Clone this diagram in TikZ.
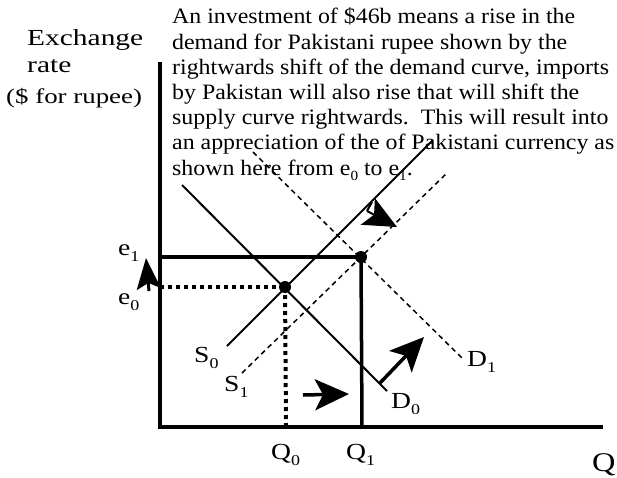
\documentclass[tikz,border=0pt]{standalone}
\usepackage{fontspec}
\setmainfont{Liberation Serif}
\newfontfamily\paraface[FakeStretch=1.085]{Liberation Serif}
\newfontfamily\wideface[FakeStretch=1.28]{Liberation Serif}
\newfontfamily\lblface[FakeStretch=1.2]{Liberation Serif}
\usetikzlibrary{arrows.meta}
\newcommand{\lowidx}[1]{\raisebox{-0.3em}{\fontsize{15}{15}\selectfont #1}}
\newcommand{\smallidx}[1]{\raisebox{-0.25em}{\fontsize{14}{14}\selectfont #1}}
\tikzset{
  axisline/.style={line width=4pt},
  levelline/.style={line width=3.5pt},
  curveline/.style={line width=2pt},
  shiftline/.style={line width=1.5pt, dash pattern=on 5pt off 4pt},
  dotline/.style={line width=4pt, dash pattern=on 4pt off 4pt},
  bigarrow/.style={line width=3.5pt, -{Stealth[length=34pt,width=31pt,inset=8pt]}},
  lbl/.style={anchor=base west, inner sep=0pt, font=\lblface\fontsize{23}{23}\selectfont},
  ylbl/.style={anchor=base west, inner sep=0pt, font=\wideface\fontsize{23}{23}\selectfont},
  eqdot/.style={circle, fill=black, inner sep=0pt, minimum size=12pt}
}
\begin{document}
\begin{tikzpicture}[x=1pt,y=-1pt]
\useasboundingbox (0,0) rectangle (617,477);
% texts
\node[anchor=base west, inner sep=0pt, align=left, font=\paraface\fontsize{22}{25.2}\selectfont] (para) at (172,175)
 {An investment of \$46b means a rise in the\\
  demand for Pakistani rupee shown by the\\
  rightwards shift of the demand curve, imports\\
  by Pakistan will also rise that will shift the\\
  supply curve rightwards.\ \ This will result into\\
  an appreciation of the of Pakistani currency as\\
  shown here from e\smallidx{0} to e\smallidx{1}.};
\node[ylbl] (ylab1) at (27,45) {Exchange};
\node[ylbl] (ylab2) at (27,72) {rate};
\node[ylbl, font=\wideface\fontsize{21}{21}\selectfont] (ylab3) at (6,103) {(\$ for rupee)};
% coordinates
\coordinate (O) at (160,427);
\coordinate (Ytop) at (160,62);
\coordinate (Xend) at (603,427);
\coordinate (E0y) at (160,287);
\coordinate (E1y) at (160,257);
\coordinate (Q0x) at (286,427);
\coordinate (Q1x) at (362,427);
\coordinate (S0a) at (227,346);
\coordinate (S0b) at (433,140);
\coordinate (D0a) at (182,185);
\coordinate (D0b) at (387,391);
\coordinate (S1a) at (242,373);
\coordinate (S1b) at (448,172);
\coordinate (D1a) at (253,152);
\coordinate (D1b) at (462,358);
\node[eqdot] (A) at (285,287) {};
\node[eqdot] (B) at (361,257) {};
% axes
\draw[axisline] (Ytop) -- (O) -- (Xend);
% level lines
\draw[levelline] (E1y) -- (B.center);
\draw[levelline] (B.center) -- (Q1x);
\draw[dotline] (E0y) -- (A.center);
\draw[dotline] (A.center) -- (Q0x);
% curves
\draw[curveline] (S0a) -- (S0b);
\draw[curveline] (D0a) -- (D0b);
\draw[shiftline] (S1a) -- (S1b);
\draw[shiftline] (D1a) -- (D1b);
% labels
\node[lbl] (le1) at (118,255) {e\lowidx{1}};
\node[lbl] (le0) at (118,304) {e\lowidx{0}};
\node[lbl] (lS0) at (194,362) {S\lowidx{0}};
\node[lbl] (lS1) at (224,391) {S\lowidx{1}};
\node[lbl] (lD0) at (391,408) {D\lowidx{0}};
\node[lbl] (lD1) at (467,366) {D\lowidx{1}};
\node[lbl] (lQ0) at (271,459) {Q\lowidx{0}};
\node[lbl] (lQ1) at (346,459) {Q\lowidx{1}};
\node[lbl, font=\lblface\fontsize{27}{27}\selectfont] (lQ) at (592,471) {Q};
% arrows
\coordinate (ua) at (149,291);
\coordinate (ub) at (146,258);
\draw[line width=3pt, -{Stealth[length=31pt,width=24pt,inset=6pt]}] (ua) -- (ub);
\coordinate (ra) at (303,395);
\coordinate (rb) at (349,394);
\draw[bigarrow] (ra) -- (rb);
\coordinate (da) at (380,383);
\coordinate (db) at (424,337);
\draw[bigarrow] (da) -- (db);
\coordinate (ha) at (372,202);
\coordinate (hb) at (367,211);
\coordinate (hc) at (397,227);
\draw[line width=2pt] (ha) -- (hb);
\draw[line width=2pt, -{Stealth[length=33pt,width=30pt,inset=7pt]}] (hb) -- (hc);
\end{tikzpicture}
\end{document}
